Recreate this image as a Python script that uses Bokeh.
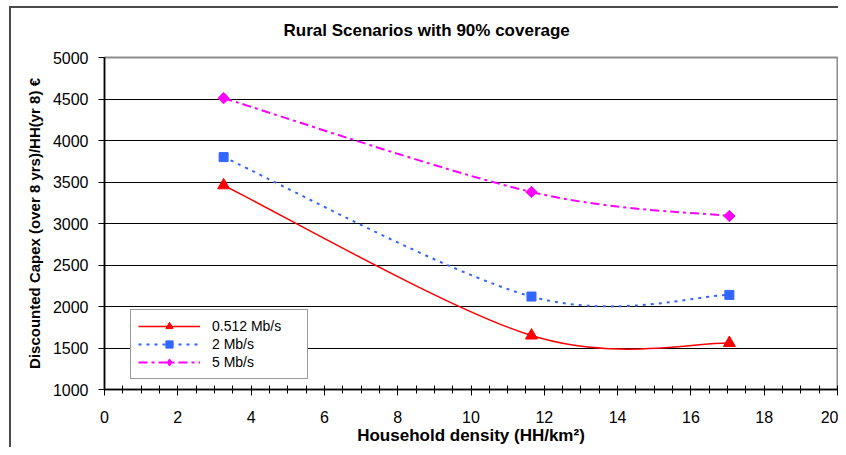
import math
from bokeh.plotting import figure
from bokeh.models import Range1d, FixedTicker, Legend, LegendItem, Title, ColumnDataSource
from bokeh.embed import file_html
from bokeh.resources import INLINE

# ---- data ----
density = [3.25, 11.65, 17.05]
capex_0512 = [3460, 1650, 1560]
capex_2 = [3800, 2120, 2140]
capex_5 = [4510, 3380, 3090]
series_names = ["0.512 Mb/s", "2 Mb/s", "5 Mb/s"]
x_ticks = [0, 2, 4, 6, 8, 10, 12, 14, 16, 18, 20]
x_minor = [i * 0.5 for i in range(0, 41)]
y_ticks = [1000, 1500, 2000, 2500, 3000, 3500, 4000, 4500, 5000]
title_text = "Rural Scenarios with 90% coverage"
x_label = "Household density (HH/km²)"
y_label = "Discounted Capex (over 8 yrs)/HH(yr 8) €"

FONT = "Liberation Sans"
NAN = float("nan")


def smooth_segments(xs, ys):
    """Excel-like smoothing: cubic Bezier segments with Catmull-Rom control points."""
    n = len(xs)
    d = dict(x0=[], y0=[], x1=[], y1=[], cx0=[], cy0=[], cx1=[], cy1=[])
    for i in range(n - 1):
        a = i - 1 if i > 0 else i
        b = i + 2 if i + 2 < n else i + 1
        d["x0"].append(xs[i]); d["y0"].append(ys[i])
        d["x1"].append(xs[i + 1]); d["y1"].append(ys[i + 1])
        d["cx0"].append(xs[i] + (xs[i + 1] - xs[a]) / 6)
        d["cy0"].append(ys[i] + (ys[i + 1] - ys[a]) / 6)
        d["cx1"].append(xs[i + 1] - (xs[b] - xs[i]) / 6)
        d["cy1"].append(ys[i + 1] - (ys[b] - ys[i]) / 6)
    return ColumnDataSource(d)


p = figure(width=838, height=447, output_backend="svg", toolbar_location=None,
           x_range=Range1d(0, 20), y_range=Range1d(1000, 5000),
           min_border_left=104, min_border_right=1, min_border_top=57, min_border_bottom=58)
p.background_fill_color = "white"
p.border_fill_alpha = 0
p.outline_line_color = "#8c8c8c"
p.outline_line_width = 2
# outer chart-area border (dark grey, left and top edges)
p.styles = {
    "background-color": "white",
    "background-image": "linear-gradient(#4a4a4a, #4a4a4a), linear-gradient(#4a4a4a, #4a4a4a)",
    "background-size": "2px 100%, 100% 2px",
    "background-position": "9px 6px, 9px 6px",
    "background-repeat": "no-repeat",
}

# title
p.add_layout(Title(text=title_text, align="left", offset=179, standoff=35,
                   text_font=FONT, text_font_style="bold", text_font_size="17px",
                   text_color="black"), "above")

# axes
p.xaxis.ticker = FixedTicker(ticks=x_ticks, minor_ticks=x_minor)
p.yaxis.ticker = FixedTicker(ticks=y_ticks)
for ax in (p.xaxis[0], p.yaxis[0]):
    ax.axis_line_color = "black"
    ax.axis_line_width = 1.5
    ax.major_tick_line_color = "black"
    ax.major_tick_in = 0
    ax.major_tick_out = 6
    ax.major_label_text_font = FONT
    ax.major_label_text_font_size = "16px"
    ax.major_label_text_color = "black"
    ax.axis_label_text_font = FONT
    ax.axis_label_text_font_style = "bold"
    ax.axis_label_text_color = "black"
p.xaxis.minor_tick_line_color = "black"
p.xaxis.minor_tick_in = 4
p.xaxis.minor_tick_out = 4
p.yaxis.minor_tick_line_color = None
p.xaxis.major_label_standoff = 15
p.yaxis.major_label_standoff = 10
p.xaxis.axis_label = x_label
p.yaxis.axis_label = y_label
p.xaxis.axis_label_text_font_size = "17px"
p.yaxis.axis_label_text_font_size = "15px"
p.xaxis.axis_label_standoff = 0
p.yaxis.axis_label_standoff = 7

p.xgrid.grid_line_color = None
p.ygrid.grid_line_color = "black"
p.ygrid.grid_line_width = 1

# (values, colour, dash, width, plot marker, size, angle, legend marker, legend size, name)
styles = [
    (capex_0512, "#ff0000", "solid", 1.5, "triangle", 12, 0.0, "triangle", 12, series_names[0]),
    (capex_2, "#3366ff", "3 5", 2, "square", 9, 0.0, "square", 9, series_names[1]),
    (capex_5, "#ff00ff", "9 4 3 4", 2, "square", 8, math.pi / 4, "diamond", 13, series_names[2]),
]
items = []
for ys, color, dash, lw, marker, size, ang, lmarker, lsize, name in styles:
    src = smooth_segments(density, ys)
    p.bezier(x0="x0", y0="y0", x1="x1", y1="y1", cx0="cx0", cy0="cy0",
             cx1="cx1", cy1="cy1", source=src, line_color=color,
             line_width=lw, line_dash=dash)
    p.scatter(density, ys, marker=marker, size=size, angle=ang,
              fill_color=color, line_color=color)
    # legend swatches (single NaN row so nothing is drawn in the plot area)
    lr = p.line([NAN], [NAN], line_color=color, line_width=lw, line_dash=dash)
    sr = p.scatter([NAN], [NAN], marker=lmarker, size=lsize,
                   fill_color=color, line_color=color)
    items.append(LegendItem(label=name, renderers=[lr, sr]))

legend = Legend(items=items, location=(26, 10), orientation="vertical")
legend.label_text_font = FONT
legend.label_text_font_size = "14px"
legend.label_text_color = "black"
legend.glyph_width = 62
legend.glyph_height = 18
legend.label_height = 18
legend.label_width = 88
legend.label_standoff = 12
legend.spacing = 0
legend.padding = 7
legend.margin = 0
legend.border_line_color = "#333333"
legend.border_line_width = 1
legend.background_fill_color = "white"
legend.background_fill_alpha = 1
p.add_layout(legend, "center")

open("out.html", "w").write(file_html(p, INLINE))
